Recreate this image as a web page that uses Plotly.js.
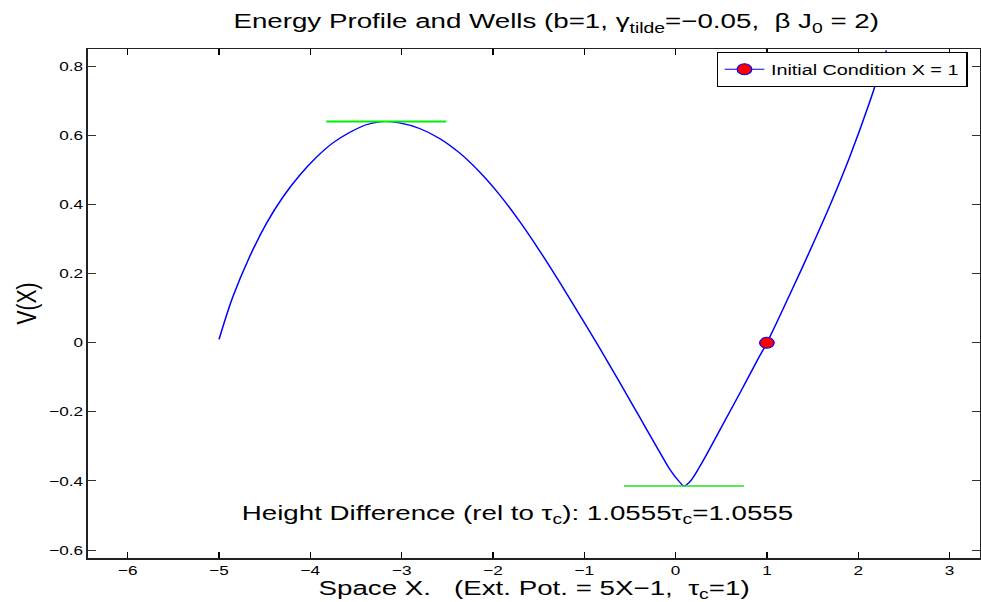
<!DOCTYPE html>
<html>
<head>
<meta charset="utf-8">
<script src="https://cdn.plot.ly/plotly-3.0.1.min.js"></script>
<style>
html,body{margin:0;padding:0;background:#fff;overflow:hidden;}
#chart{width:743px;height:602px;transform:scaleX(1.3203);transform-origin:0 0;}
</style>
</head>
<body>
<div id="chart"></div>
<script>
// Energy profile V(X)
const profileX = [-5.0, -4.849, -4.666, -4.483, -4.301, -4.118, -3.935, -3.753, -3.571, -3.388, -3.242, -3.17, -3.023, -2.804, -2.585, -2.366, -2.147, -1.928, -1.709, -1.490, -1.271, -1.051, -0.832, -0.613, -0.394, -0.175, -0.066, 0.044, 0.09, 0.153, 0.263, 0.482, 0.701, 0.920, 1.0, 1.249, 1.468, 1.687, 1.906, 2.125, 2.308];
const profileV = [0.010, 0.133, 0.249, 0.345, 0.422, 0.485, 0.537, 0.579, 0.609, 0.6315, 0.640, 0.641, 0.637, 0.621, 0.592, 0.550, 0.495, 0.429, 0.352, 0.267, 0.176, 0.081, -0.015, -0.114, -0.215, -0.316, -0.365, -0.403, -0.4145, -0.403, -0.359, -0.254, -0.147, -0.038, 0.0, 0.139, 0.265, 0.396, 0.538, 0.697, 0.847];

// Well levels (maximum and minimum)
const topWellX = [-3.826, -2.512];
const topWellV = [0.641, 0.641];
const bottomWellX = [-0.566, 0.748];
const bottomWellV = [-0.4145, -0.4145];

// Initial condition
const initX = [1];
const initV = [0];

// Axis ticks
const xTicks = [-6, -5, -4, -3, -2, -1, 0, 1, 2, 3];
const yTicks = [-0.6, -0.4, -0.2, 0, 0.2, 0.4, 0.6, 0.8];

const FONT = 'Liberation Sans, Arial, Helvetica, sans-serif';

const traces = [
  {x: profileX, y: profileV, type: 'scatter', mode: 'lines',
   line: {color: '#0000ff', width: 1.2, shape: 'spline', smoothing: 1.0},
   showlegend: false, hoverinfo: 'skip'},
  {x: topWellX, y: topWellV, type: 'scatter', mode: 'lines',
   line: {color: '#00ee00', width: 2}, showlegend: false},
  {x: bottomWellX, y: bottomWellV, type: 'scatter', mode: 'lines',
   line: {color: '#22e022', width: 1.3}, showlegend: false},
  {x: initX, y: initV, type: 'scatter', mode: 'lines+markers',
   name: 'Initial Condition X = 1',
   line: {color: '#0000ff', width: 1},
   marker: {color: '#ff0000', size: 11, line: {color: '#0000ff', width: 1}},
   showlegend: true}
];

const layout = {
  width: 743, height: 602,
  margin: {l: 67, r: 1, t: 49, b: 44},
  paper_bgcolor: '#ffffff', plot_bgcolor: '#ffffff',
  font: {family: FONT, color: '#000000', size: 13},
  title: {
    text: 'Energy Profile and Wells (b=1,\u00a0γ<sub>tilde</sub>=−0.05,\u00a0 β J<sub>0</sub> = 2)',
    font: {family: FONT, size: 21, color: '#000'},
    x: 0.567, xref: 'container', xanchor: 'center',
    y: 0.965, yref: 'container', yanchor: 'middle'
  },
  xaxis: {
    range: [-6.43, 3.33], tickvals: xTicks,
    ticks: 'inside', ticklen: 6, tickwidth: 1, tickcolor: '#000',
    showline: true, linecolor: '#222', linewidth: 1.5, mirror: 'allticks',
    showgrid: false, zeroline: false,
    tickfont: {family: FONT, size: 13, color: '#000'},
    title: {text: 'Space X.\u00a0\u00a0\u00a0(Ext. Pot. = 5X−1,\u00a0\u00a0τ<sub>c</sub>=1)',
            font: {family: FONT, size: 21, color: '#000'}, standoff: 0}
  },
  yaxis: {
    range: [-0.623, 0.851], tickvals: yTicks,
    ticks: 'inside', ticklen: 6, tickwidth: 1, tickcolor: '#333',
    showline: true, linecolor: '#222', linewidth: 1.5, mirror: 'allticks',
    showgrid: false, zeroline: false,
    tickfont: {family: FONT, size: 13, color: '#000'},
    title: {text: 'V(X)', font: {family: FONT, size: 21, color: '#000'}, standoff: 3}
  },
  legend: {
    x: 0.705, xanchor: 'left', y: 0.994, yanchor: 'top',
    bgcolor: '#ffffff', bordercolor: '#000000', borderwidth: 1,
    font: {family: FONT, size: 15, color: '#000'},
    tracegroupgap: 0
  },
  annotations: [{
    text: 'Height Difference (rel to τ<sub>c</sub>): 1.0555τ<sub>c</sub>=1.0555',
    x: -1.734, y: -0.497, xref: 'x', yref: 'y',
    xanchor: 'center', yanchor: 'middle', showarrow: false,
    font: {family: FONT, size: 21, color: '#000'}
  }]
};

Plotly.newPlot('chart', traces, layout, {displayModeBar: false, responsive: false, staticPlot: true});
</script>
</body>
</html>
